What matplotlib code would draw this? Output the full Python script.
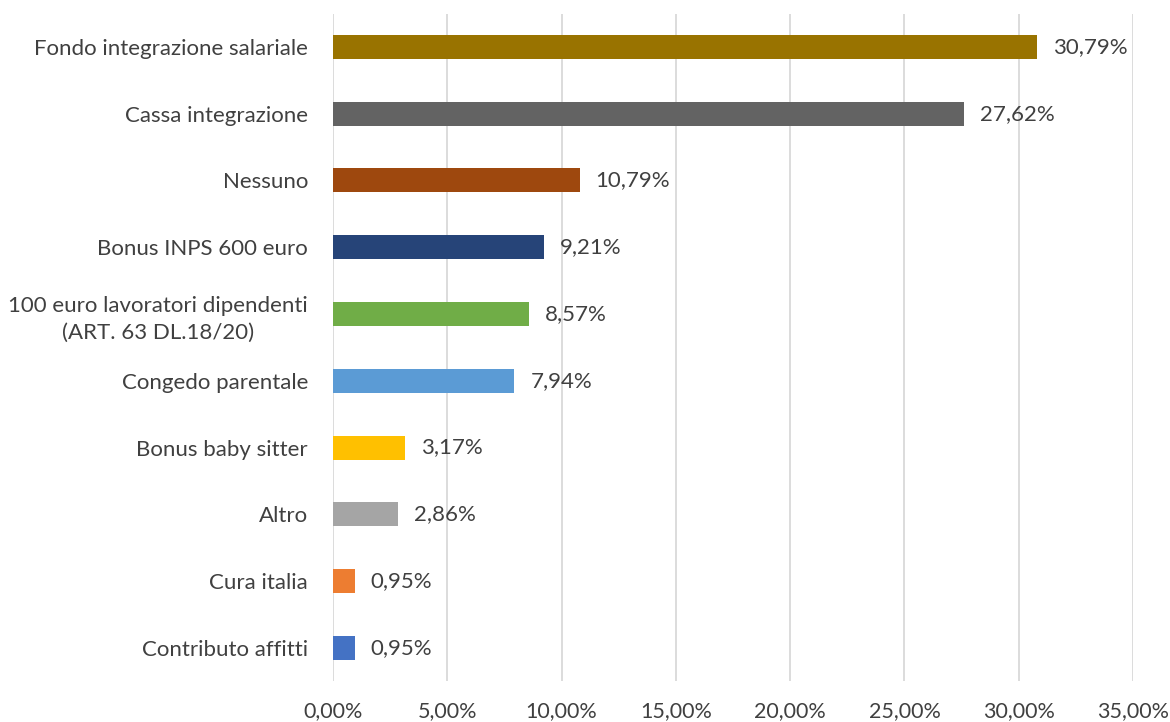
import matplotlib

matplotlib.use("Agg")
import matplotlib.pyplot as plt
from matplotlib.ticker import FuncFormatter

# categories from bottom to top
categories = [
    "Contributo affitti",
    "Cura italia",
    "Altro",
    "Bonus baby sitter",
    "Congedo parentale",
    "100 euro lavoratori dipendenti\n(ART. 63 DL.18/20)",
    "Bonus INPS 600 euro",
    "Nessuno",
    "Cassa integrazione",
    "Fondo integrazione salariale",
]
values = [0.95, 0.95, 2.86, 3.17, 7.94, 8.57, 9.21, 10.79, 27.62, 30.79]
colors = [
    "#4472C4", "#ED7D31", "#A5A5A5", "#FFC000", "#5B9BD5",
    "#70AD47", "#264478", "#9E480E", "#636363", "#997300",
]
x_ticks = [0, 5, 10, 15, 20, 25, 30, 35]

plt.rcParams["font.family"] = ["Lato", "DejaVu Sans"]
text_color = "#404040"
fs = 16


def pct(v):
    return f"{v:.2f}%".replace(".", ",")


fig = plt.figure(figsize=(11.7, 7.22), dpi=100)
ax = fig.add_axes([0.2846, 0.0565, 0.6838, 0.9247])

y = range(len(categories))
ax.barh(y, values, height=0.36, color=colors, zorder=3)
for yi, v in zip(y, values):
    ax.text(v + 0.7, yi, pct(v), va="center", ha="left",
            fontsize=fs, color=text_color)

ax.set_xlim(0, 35)
ax.set_ylim(-0.5, len(categories) - 0.5)
ax.set_xticks(x_ticks)
ax.xaxis.set_major_formatter(FuncFormatter(lambda v, _: pct(v)))
ax.set_yticks(list(y))
ax.set_yticklabels(categories, fontsize=fs, color=text_color)
ax.tick_params(axis="x", labelsize=15.5, labelcolor=text_color, length=0, pad=14)
ax.tick_params(axis="y", length=0, pad=18)
for lbl in ax.get_yticklabels():
    lbl.set_multialignment("center")
    lbl.set_linespacing(1.45)

ax.grid(axis="x", color="#D9D9D9", linewidth=1.3, zorder=0)
for s in ax.spines.values():
    s.set_visible(False)

fig.savefig("out.png", dpi=100)
